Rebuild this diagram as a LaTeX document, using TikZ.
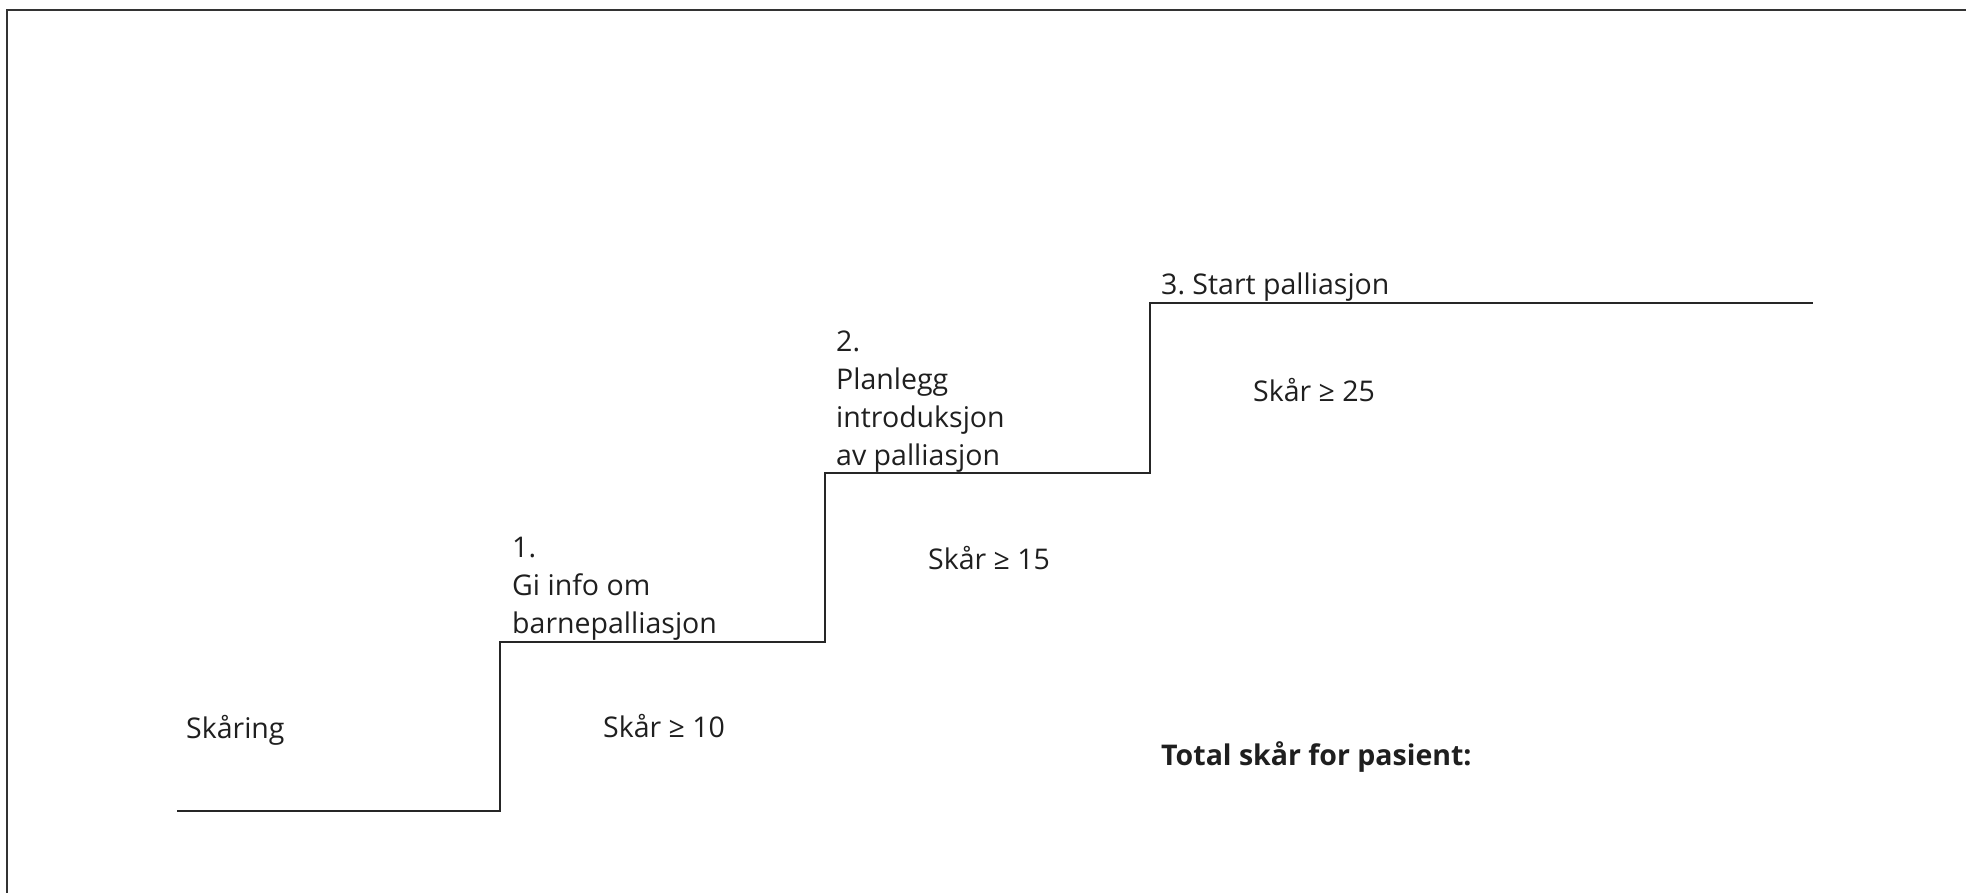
\documentclass[tikz,border=0pt]{standalone}
\usepackage{fontspec}
\setmainfont{Open Sans}
\begin{document}
\frenchspacing
\begin{tikzpicture}[x=1pt,y=-1pt,
  stair/.style={line width=2pt, draw=black!85, line join=miter},
  frameline/.style={line width=2.2pt, draw=black!80},
  lbl/.style={inner sep=0pt, anchor=base west, font=\fontsize{28.5}{38}\selectfont, text=black!88, align=left},
  boldlbl/.style={lbl, font=\fontsize{28.5}{38}\selectfont\bfseries}]
\useasboundingbox (0,0) rectangle (1966,893);
\draw[frameline] (7,900) -- (7,10) -- (1975,10);
% stair corners
\coordinate (s0) at (177,811);
\coordinate (s1) at (500,811);
\coordinate (s2) at (500,642);
\coordinate (s3) at (825,642);
\coordinate (s4) at (825,473);
\coordinate (s5) at (1150,473);
\coordinate (s6) at (1150,303);
\coordinate (s7) at (1813,303);
\draw[stair] (s0) -- (s1) -- (s2) -- (s3) -- (s4) -- (s5) -- (s6) -- (s7);
% labels (base anchor = last line of a multi-line node)
\node[lbl] (skaring) at (186,738) {Skåring};
\node[lbl] (step1) at (512,633) {1.\\Gi info om\\barnepalliasjon};
\node[lbl] (score10) at (603,737) {Skår ≥ 10};
\node[lbl] (step2) at (836,465) {2.\\Planlegg\\introduksjon\\av palliasjon};
\node[lbl] (score15) at (928,569) {Skår ≥ 15};
\node[lbl] (step3) at (1161,295) {3. Start palliasjon};
\node[lbl] (score25) at (1253,401) {Skår ≥ 25};
\node[boldlbl] (total) at (1161,765) {Total skår for pasient:};
\end{tikzpicture}
\end{document}
